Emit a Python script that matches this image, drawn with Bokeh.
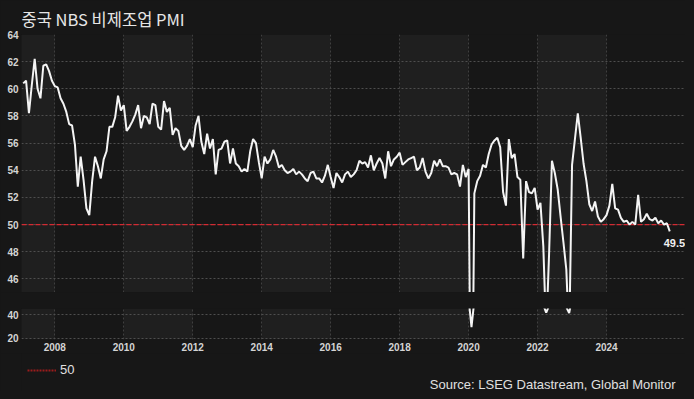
from bokeh.plotting import figure
from bokeh.layouts import column
from bokeh.models import (Range1d, FixedTicker, BoxAnnotation, Span, Label,
                          Legend, LegendItem)
from bokeh.embed import file_html
from bokeh.resources import INLINE

# ---------------- data ----------------
title_text = "중국 NBS 비제조업 PMI"
source_text = "Source: LSEG Datastream, Global Monitor"
first_year = 2007
first_month = 2   # series starts Feb 2007

pmi_2007 = [60.4, 60.6, 58.2, 60.3, 62.2, 60.0, 59.3, 61.7, 61.8, 61.3, 60.6]
pmi_2008 = [60.2, 60.1, 59.3, 58.9, 58.3, 57.4, 57.3, 55.9, 52.8, 55.0, 53.3, 51.2]
pmi_2009 = [50.7, 53.2, 55.0, 54.3, 53.4, 54.8, 55.4, 57.2, 57.2, 57.9, 59.5, 58.4]
pmi_2010 = [58.8, 56.9, 57.2, 57.6, 58.1, 58.8, 57.1, 58.0, 57.9, 57.4, 58.9, 58.8]
pmi_2011 = [57.2, 57.0, 59.1, 58.3, 58.6, 56.6, 57.1, 56.9, 55.8, 55.5, 55.8, 56.3]
pmi_2012 = [55.7, 57.3, 58.0, 56.1, 55.2, 56.7, 55.6, 56.3, 53.7, 55.5, 55.6, 56.1]
pmi_2013 = [56.2, 54.5, 55.6, 54.5, 54.3, 53.9, 54.1, 53.9, 55.4, 56.3, 56.0, 54.6]
pmi_2014 = [53.4, 55.0, 54.5, 54.8, 55.5, 55.0, 54.2, 54.4, 54.0, 53.8, 53.9, 54.1]
pmi_2015 = [53.7, 53.9, 53.7, 53.4, 53.2, 53.8, 53.9, 53.4, 53.4, 53.1, 53.6, 54.4]
pmi_2016 = [53.5, 52.7, 53.8, 53.5, 53.1, 53.7, 53.9, 53.5, 53.7, 54.0, 54.7, 54.5]
pmi_2017 = [54.6, 54.2, 55.1, 54.0, 54.5, 54.9, 54.5, 53.4, 55.4, 54.3, 54.8, 55.0]
pmi_2018 = [55.3, 54.4, 54.6, 54.8, 54.9, 55.0, 54.0, 54.2, 54.9, 53.9, 53.4, 53.8]
pmi_2019 = [54.7, 54.3, 54.8, 54.3, 54.3, 54.2, 53.7, 53.8, 53.7, 52.8, 54.4, 53.5]
pmi_2020 = [54.1, 29.6, 52.3, 53.2, 53.6, 54.4, 54.2, 55.2, 55.9, 56.2, 56.4, 55.7]
pmi_2021 = [52.4, 51.4, 56.3, 54.9, 55.2, 53.5, 53.3, 47.5, 53.2, 52.4, 52.3, 52.7]
pmi_2022 = [51.1, 51.6, 48.4, 41.9, 47.8, 54.7, 53.8, 52.6, 50.6, 48.7, 46.7, 41.6]
pmi_2023 = [54.4, 56.3, 58.2, 56.4, 54.5, 53.2, 51.5, 51.0, 51.7, 50.6, 50.2, 50.4]
pmi_2024 = [50.7, 51.4, 53.0, 51.2, 51.1, 50.5, 50.2, 50.3, 50.0, 50.2, 50.0, 52.2]
pmi_2025 = [50.2, 50.4, 50.8, 50.4, 50.3, 50.5, 50.1, 50.3, 50.0, 50.1, 49.5]

yearly = [pmi_2007, pmi_2008, pmi_2009, pmi_2010, pmi_2011, pmi_2012, pmi_2013,
          pmi_2014, pmi_2015, pmi_2016, pmi_2017, pmi_2018, pmi_2019, pmi_2020,
          pmi_2021, pmi_2022, pmi_2023, pmi_2024, pmi_2025]

x_ticks = [2008, 2010, 2012, 2014, 2016, 2018, 2020, 2022, 2024]
x_tick_labels = ["2008", "2010", "2012", "2014", "2016", "2018", "2020", "2022", "2024"]
upper_y_ticks = [46, 48, 50, 52, 54, 56, 58, 60, 62, 64]
lower_y_ticks = [20, 40]
band_starts = [2006, 2010, 2014, 2018, 2022]
band_ends = [2008, 2012, 2016, 2020, 2024]
reference_level = 50
reference_label = "50"

# build monthly x (decimal years) / y
xs, ys = [], []
for i, vals in enumerate(yearly):
    yr = first_year + i
    m0 = first_month if i == 0 else 1
    for j, v in enumerate(vals):
        xs.append(yr + (m0 - 1 + j) / 12.0)
        ys.append(v)

# ---------------- style ----------------
BG = "#171717"
BAND = "#1f1f1f"
GRID = "#4e4e4e"
TXT = "#d4d4d4"
LINE = "#f4f4f4"
RED = "#d42a32"
FRAME_W = 664
LEFT = 21

xr = Range1d(2007.034, 2026.29)


def style(p, yticks):
    p.background_fill_color = BG
    p.border_fill_color = BG
    p.outline_line_color = None
    for s, e in zip(band_starts, band_ends):
        p.add_layout(BoxAnnotation(left=s, right=e, fill_color=BAND, fill_alpha=1.0,
                                   line_alpha=0, level="image"))
    p.yaxis.ticker = FixedTicker(ticks=yticks)
    p.yaxis.axis_line_color = None
    p.yaxis.major_tick_line_color = None
    p.yaxis.minor_tick_line_color = None
    p.yaxis.major_tick_out = 0
    p.yaxis.major_tick_in = 0
    p.yaxis.minor_tick_out = 0
    p.yaxis.major_label_standoff = 3
    p.yaxis.major_label_text_color = TXT
    p.yaxis.major_label_text_font = "Liberation Sans"
    p.yaxis.major_label_text_font_style = "bold"
    p.yaxis.major_label_text_font_size = "10px"
    p.ygrid.ticker = FixedTicker(ticks=yticks)
    p.ygrid.grid_line_color = GRID
    p.ygrid.grid_line_dash = "2 2"
    p.ygrid.grid_line_width = 1
    p.xgrid.ticker = FixedTicker(ticks=x_ticks)
    p.xgrid.grid_line_color = "#3f3f3f"
    p.xgrid.grid_line_dash = "2 2"
    p.xgrid.grid_line_width = 1


# ---------------- upper panel ----------------
p1 = figure(frame_width=FRAME_W, frame_height=258, x_range=xr, y_range=Range1d(45, 64),
            output_backend="svg", toolbar_location=None, x_axis_location=None,
            min_border_left=LEFT, min_border_right=0, min_border_top=26,
            min_border_bottom=0)
style(p1, upper_y_ticks)
p1.title.text = title_text
p1.title.text_font = "Noto Sans CJK KR"
p1.title.text_font_size = "16.5px"
p1.title.text_font_style = "normal"
p1.title.text_color = "#e6e6e6"
p1.title.align = "left"
p1.title.standoff = 8
p1.add_layout(Span(location=reference_level, dimension="width", line_color=RED,
                   line_dash="5 2", line_width=1.3, level="underlay"))
p1.line(xs, ys, line_color=LINE, line_width=2)
p1.add_layout(Label(x=xs[-1], y=ys[-1], text=f"{ys[-1]:.1f}", x_offset=-6, y_offset=-12,
                    text_baseline="middle", text_color="#f0f0f0",
                    text_font="Liberation Sans", text_font_style="bold",
                    text_font_size="11px"))

# ---------------- lower panel ----------------
p2 = figure(frame_width=FRAME_W, frame_height=31, x_range=xr, y_range=Range1d(19.0, 45.5),
            output_backend="svg", toolbar_location=None,
            min_border_left=LEFT, min_border_right=0, min_border_top=16,
            min_border_bottom=0)
style(p2, lower_y_ticks)
p2.xaxis.ticker = FixedTicker(ticks=x_ticks)
p2.xaxis.major_label_overrides = dict(zip(x_ticks, x_tick_labels))
p2.xaxis.axis_line_color = None
p2.xaxis.major_tick_line_color = None
p2.xaxis.minor_tick_line_color = None
p2.xaxis.major_tick_out = 0
p2.xaxis.major_tick_in = 0
p2.xaxis.minor_tick_out = 0
p2.xaxis.major_label_standoff = 3
p2.xaxis.major_label_text_color = TXT
p2.xaxis.major_label_text_font = "Liberation Sans"
p2.xaxis.major_label_text_font_style = "bold"
p2.xaxis.major_label_text_font_size = "10px"
p2.line(xs, ys, line_color=LINE, line_width=2)

# ---------------- footer: legend + source ----------------
p3 = figure(frame_width=FRAME_W, frame_height=38, x_range=Range1d(0, 1), y_range=Range1d(0, 1),
            output_backend="svg", toolbar_location=None,
            x_axis_location=None, y_axis_location=None,
            min_border_left=LEFT, min_border_right=0, min_border_top=0,
            min_border_bottom=0)
p3.grid.visible = False
p3.background_fill_color = BG
p3.border_fill_color = BG
p3.outline_line_color = None
# reference-line legend entry (value 50 lies outside this panel's range)
r50 = p3.line([0, 1], [reference_level, reference_level],
              line_color="#9c1c1c", line_dash="2 1", line_width=2)
legend = Legend(items=[LegendItem(label=reference_label, renderers=[r50])],
                location=(6, 14), orientation="horizontal",
                glyph_width=29, glyph_height=14, label_standoff=4,
                padding=0, margin=0, spacing=0,
                border_line_alpha=0, background_fill_alpha=0,
                label_text_color="#e0e0e0", label_text_font="Liberation Sans",
                label_text_font_size="13px")
p3.add_layout(legend)
p3.add_layout(Label(x=FRAME_W - 10, y=7, x_units="screen", y_units="screen", text=source_text,
                    text_align="right", text_baseline="middle",
                    text_font="Liberation Sans", text_font_size="13px",
                    text_color="#e0e0e0"))

layout = column(p1, p2, p3, spacing=0, styles={"background-color": BG})
html = file_html(layout, INLINE, title="PMI")
html = html.replace("<body>", f'<body style="background-color:{BG};">')
open("out.html", "w").write(html)
